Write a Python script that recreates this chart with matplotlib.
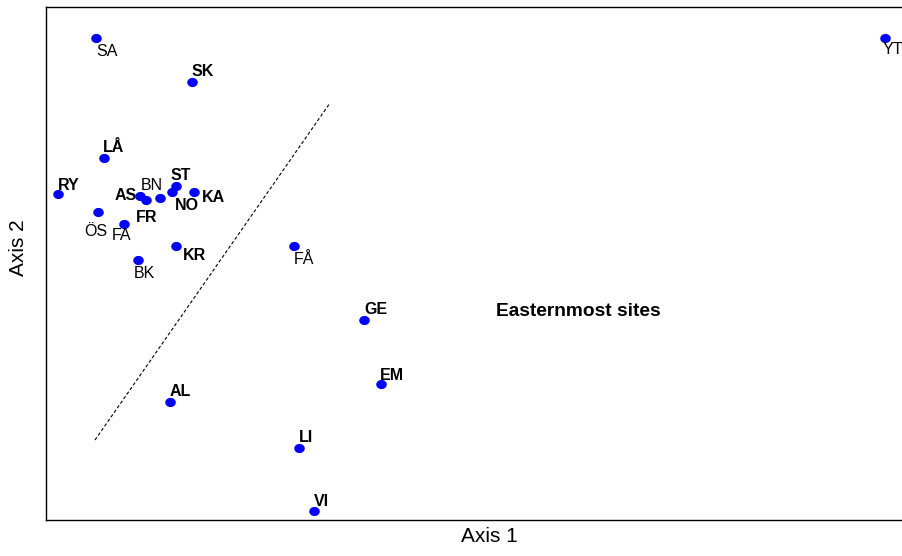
import matplotlib
matplotlib.use("Agg")
import matplotlib.pyplot as plt
import numpy as np
from matplotlib.path import Path

plt.rcParams["font.family"] = ["Liberation Sans", "DejaVu Sans"]

# site scores on the first two ordination axes
sites = ["SA", "YT", "SK", "LÅ", "RY", "AS", "FR", "BN", "ST", "NO", "KA",
         "ÖS", "FA", "KR", "BK", "FÅ", "GE", "EM", "AL", "LI", "VI"]
axis1 = [-1.02, 2.925, -0.54, -0.98, -1.21, -0.80, -0.77, -0.70, -0.62, -0.64, -0.53,
         -1.01, -0.88, -0.62, -0.81, -0.03, 0.32, 0.405, -0.65, -0.005, 0.07]
axis2 = [1.31, 1.31, 1.09, 0.71, 0.53, 0.52, 0.50, 0.51, 0.57, 0.54, 0.54,
         0.44, 0.38, 0.27, 0.20, 0.27, -0.10, -0.42, -0.51, -0.74, -1.055]
bold = ["SK", "LÅ", "RY", "AS", "FR", "ST", "NO", "KA", "KR", "GE", "EM", "AL", "LI", "VI"]

# label offsets in pixels (right, down) and alignment
offsets = {
    "SA": (0, 14, "left"), "YT": (-2, 12, "left"), "SK": (0, -10, "left"),
    "LÅ": (-1, -11, "left"), "RY": (0, -9, "left"), "AS": (-3, 0, "right"),
    "FR": (-10, 17, "left"), "BN": (3, -13, "right"), "ST": (-5, -11, "left"),
    "NO": (3, 13, "left"), "KA": (8, 6, "left"), "ÖS": (-2, 19, "center"),
    "FA": (-2, 12, "center"), "KR": (7, 9, "left"), "BK": (-4, 13, "left"),
    "FÅ": (0, 14, "left"), "GE": (0, -10, "left"), "EM": (-1, -9, "left"),
    "AL": (0, -11, "left"), "LI": (0, -11, "left"), "VI": (0, -10, "left"),
}

divider_x = [-1.025, 0.15]
divider_y = [-0.70, 0.985]

# slightly wide elliptical dot, like the reference
t = np.linspace(0, 2 * np.pi, 40)
ellipse = Path(np.column_stack([np.cos(t), 0.87 * np.sin(t)]), closed=True)

fig = plt.figure(figsize=(9.02, 5.56), dpi=100)
ax = fig.add_axes([46 / 902, 36 / 556, 859 / 902, 513 / 556])

ax.plot(axis1, axis2, linestyle="none", marker=ellipse, color="#0000ff",
        markersize=7.6, markeredgewidth=0, zorder=3)

for name, x, y in zip(sites, axis1, axis2):
    dx, dy, ha = offsets[name]
    ax.annotate(name, (x, y), xytext=(dx * 0.72, -dy * 0.72), textcoords="offset points",
                ha=ha, va="center", fontsize=11.5,
                fontweight="bold" if name in bold else "normal")

ax.plot(divider_x, divider_y, color="black", linestyle=(0, (3, 2)), linewidth=0.8)
ax.text(1.39, -0.06, "Easternmost sites", ha="center", va="center",
        fontsize=13.8, fontweight="bold")

ax.set_xlim(-1.27, 3.025)
ax.set_ylim(-1.1, 1.465)
ax.set_xticks([])
ax.set_yticks([])
for spine in ax.spines.values():
    spine.set_linewidth(1.0)

fig.text(489 / 902, 1 - 537 / 556, "Axis 1", ha="center", va="center", fontsize=15)
fig.text(19 / 902, 1 - 248 / 556, "Axis 2", ha="center", va="center", fontsize=15,
         rotation=90)

fig.savefig("out.png", dpi=100)
